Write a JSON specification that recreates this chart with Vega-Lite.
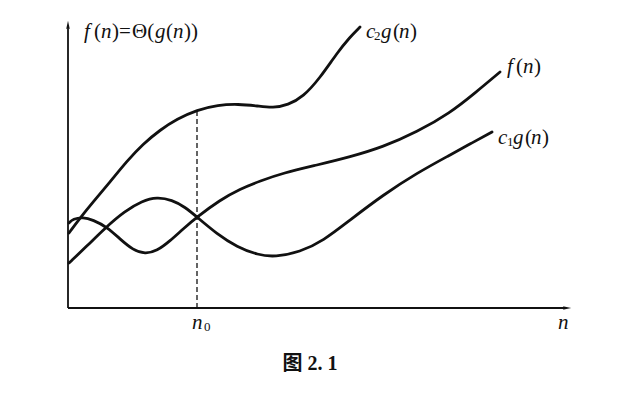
{
  "$schema": "https://vega.github.io/schema/vega-lite/v6.json",
  "width": 620,
  "height": 394,
  "autosize": {"type": "fit", "contains": "padding"},
  "padding": 0,
  "background": "white",
  "config": {"view": {"stroke": null}},
  "datasets": {
    "curves": [
      {"curve": "c2g", "n": 1, "v": 75}, {"curve": "c2g", "n": 12, "v": 90}, {"curve": "c2g", "n": 25, "v": 106},
      {"curve": "c2g", "n": 42, "v": 126}, {"curve": "c2g", "n": 59, "v": 147}, {"curve": "c2g", "n": 75, "v": 164},
      {"curve": "c2g", "n": 92, "v": 178}, {"curve": "c2g", "n": 109, "v": 189}, {"curve": "c2g", "n": 129, "v": 198},
      {"curve": "c2g", "n": 150, "v": 203}, {"curve": "c2g", "n": 170, "v": 204}, {"curve": "c2g", "n": 190, "v": 202},
      {"curve": "c2g", "n": 205, "v": 200}, {"curve": "c2g", "n": 220, "v": 203}, {"curve": "c2g", "n": 235, "v": 211},
      {"curve": "c2g", "n": 252, "v": 230}, {"curve": "c2g", "n": 269, "v": 255}, {"curve": "c2g", "n": 282, "v": 271},
      {"curve": "c2g", "n": 292, "v": 281},
      {"curve": "f", "n": 1, "v": 85}, {"curve": "f", "n": 5, "v": 89}, {"curve": "f", "n": 15, "v": 91},
      {"curve": "f", "n": 25, "v": 88}, {"curve": "f", "n": 39, "v": 81}, {"curve": "f", "n": 52, "v": 69},
      {"curve": "f", "n": 65, "v": 58}, {"curve": "f", "n": 77, "v": 54}, {"curve": "f", "n": 89, "v": 57},
      {"curve": "f", "n": 102, "v": 67}, {"curve": "f", "n": 115, "v": 79}, {"curve": "f", "n": 129, "v": 91},
      {"curve": "f", "n": 152, "v": 108}, {"curve": "f", "n": 172, "v": 119}, {"curve": "f", "n": 192, "v": 127},
      {"curve": "f", "n": 215, "v": 135}, {"curve": "f", "n": 249, "v": 143}, {"curve": "f", "n": 282, "v": 151},
      {"curve": "f", "n": 315, "v": 161}, {"curve": "f", "n": 349, "v": 176}, {"curve": "f", "n": 382, "v": 195},
      {"curve": "f", "n": 407, "v": 215}, {"curve": "f", "n": 432, "v": 236},
      {"curve": "c1g", "n": 1, "v": 45}, {"curve": "c1g", "n": 19, "v": 62}, {"curve": "c1g", "n": 37, "v": 80},
      {"curve": "c1g", "n": 57, "v": 97}, {"curve": "c1g", "n": 74, "v": 107}, {"curve": "c1g", "n": 89, "v": 111},
      {"curve": "c1g", "n": 104, "v": 108}, {"curve": "c1g", "n": 117, "v": 101}, {"curve": "c1g", "n": 129, "v": 91},
      {"curve": "c1g", "n": 149, "v": 74}, {"curve": "c1g", "n": 169, "v": 61}, {"curve": "c1g", "n": 190, "v": 53},
      {"curve": "c1g", "n": 207, "v": 51}, {"curve": "c1g", "n": 232, "v": 56}, {"curve": "c1g", "n": 255, "v": 67},
      {"curve": "c1g", "n": 282, "v": 88}, {"curve": "c1g", "n": 315, "v": 113}, {"curve": "c1g", "n": 349, "v": 135},
      {"curve": "c1g", "n": 382, "v": 153}, {"curve": "c1g", "n": 402, "v": 164}, {"curve": "c1g", "n": 424, "v": 176}
    ],
    "axes": [
      {"seg": "yaxis", "n": 0, "v": 0}, {"seg": "yaxis", "n": 0, "v": 282},
      {"seg": "xaxis", "n": 0, "v": 0}, {"seg": "xaxis", "n": 498, "v": 0}
    ],
    "dash": [
      {"n": 129, "v": 0}, {"n": 129, "v": 198}
    ],
    "arrows": [
      {"dir": "up", "n": 0, "v": 282},
      {"dir": "right", "n": 498, "v": 0}
    ],
    "texts": [
      {"kind": "it", "n": 16, "v": 276, "t": "f"},
      {"kind": "up", "n": 26, "v": 276, "t": "("},
      {"kind": "it", "n": 33, "v": 276, "t": "n"},
      {"kind": "up", "n": 44, "v": 276, "t": ")="},
      {"kind": "up", "n": 64, "v": 276, "t": "Θ("},
      {"kind": "it", "n": 87, "v": 276, "t": "g"},
      {"kind": "up", "n": 98, "v": 276, "t": "("},
      {"kind": "it", "n": 105, "v": 276, "t": "n"},
      {"kind": "up", "n": 116, "v": 276, "t": "))"},
      {"kind": "it", "n": 298, "v": 276, "t": "c"},
      {"kind": "sub", "n": 306, "v": 272, "t": "2"},
      {"kind": "it", "n": 313, "v": 276, "t": "g"},
      {"kind": "up", "n": 325, "v": 276, "t": "("},
      {"kind": "it", "n": 331, "v": 276, "t": "n"},
      {"kind": "up", "n": 342, "v": 276, "t": ")"},
      {"kind": "it", "n": 439, "v": 241, "t": "f"},
      {"kind": "up", "n": 448, "v": 241, "t": "("},
      {"kind": "it", "n": 455, "v": 241, "t": "n"},
      {"kind": "up", "n": 466, "v": 241, "t": ")"},
      {"kind": "it", "n": 430, "v": 170, "t": "c"},
      {"kind": "sub", "n": 439, "v": 166, "t": "1"},
      {"kind": "it", "n": 445, "v": 170, "t": "g"},
      {"kind": "up", "n": 457, "v": 170, "t": "("},
      {"kind": "it", "n": 463, "v": 170, "t": "n"},
      {"kind": "up", "n": 474, "v": 170, "t": ")"},
      {"kind": "it", "n": 490, "v": -15, "t": "n"},
      {"kind": "it", "n": 124, "v": -15, "t": "n"},
      {"kind": "sub", "n": 136, "v": -19, "t": "0"},
      {"kind": "cap", "n": 242, "v": -56, "t": "图 2. 1"}
    ]
  },
  "encoding": {
    "x": {"field": "n", "type": "quantitative", "axis": null, "scale": {"domain": [-68, 552], "nice": false, "zero": false}},
    "y": {"field": "v", "type": "quantitative", "axis": null, "scale": {"domain": [-86, 308], "nice": false, "zero": false}}
  },
  "layer": [
    {
      "data": {"name": "axes"},
      "mark": {"type": "line", "color": "#111", "strokeWidth": 1.8, "interpolate": "linear"},
      "encoding": {"detail": {"field": "seg"}}
    },
    {
      "data": {"name": "dash"},
      "mark": {"type": "line", "color": "#111", "strokeWidth": 1.3, "strokeDash": [5, 3]},
      "encoding": {}
    },
    {
      "data": {"name": "curves"},
      "mark": {"type": "line", "color": "#111", "strokeWidth": 2.8, "interpolate": "basis", "strokeCap": "round"},
      "encoding": {"detail": {"field": "curve"}}
    },
    {
      "data": {"name": "arrows"},
      "transform": [{"filter": "datum.dir === 'up'"}],
      "mark": {"type": "point", "filled": true, "color": "#111", "opacity": 1, "size": 110, "shape": "M0,-1L0.35,0.6L0,0.3L-0.35,0.6Z"}
    },
    {
      "data": {"name": "arrows"},
      "transform": [{"filter": "datum.dir === 'right'"}],
      "mark": {"type": "point", "filled": true, "color": "#111", "opacity": 1, "size": 110, "shape": "M1,0L-0.6,0.35L-0.3,0L-0.6,-0.35Z"}
    },
    {
      "data": {"name": "texts"},
      "transform": [{"filter": "datum.kind === 'it'"}],
      "mark": {"type": "text", "align": "left", "baseline": "middle", "font": "Liberation Serif", "fontStyle": "italic", "fontSize": 21, "color": "#111"},
      "encoding": {"text": {"field": "t"}}
    },
    {
      "data": {"name": "texts"},
      "transform": [{"filter": "datum.kind === 'up'"}],
      "mark": {"type": "text", "align": "left", "baseline": "middle", "font": "Liberation Serif", "fontSize": 21, "color": "#111"},
      "encoding": {"text": {"field": "t"}}
    },
    {
      "data": {"name": "texts"},
      "transform": [{"filter": "datum.kind === 'sub'"}],
      "mark": {"type": "text", "align": "left", "baseline": "middle", "font": "Liberation Serif", "fontSize": 13, "color": "#111"},
      "encoding": {"text": {"field": "t"}}
    },
    {
      "data": {"name": "texts"},
      "transform": [{"filter": "datum.kind === 'cap'"}],
      "mark": {"type": "text", "align": "center", "baseline": "middle", "font": "'Liberation Serif', 'Noto Sans CJK SC'", "fontWeight": "bold", "fontSize": 20, "color": "#111"},
      "encoding": {"text": {"field": "t"}}
    }
  ]
}
